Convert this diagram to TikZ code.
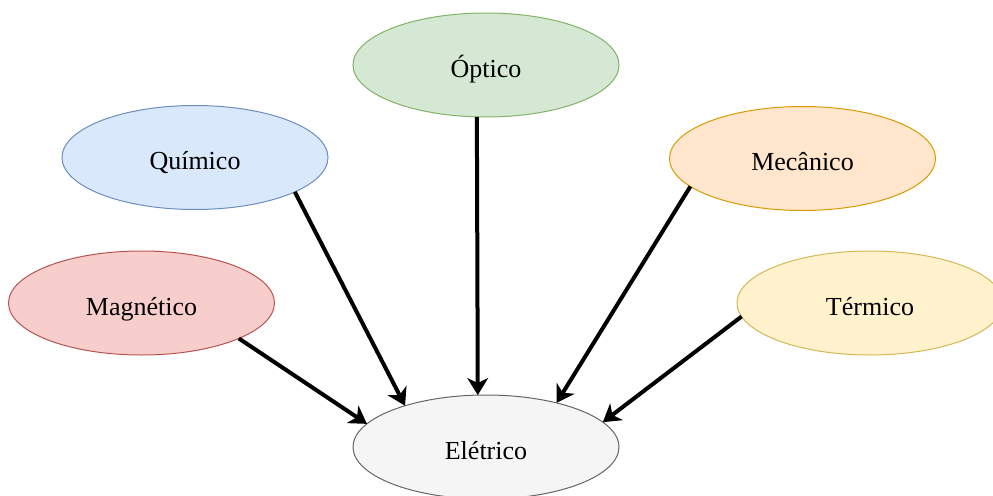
\documentclass[tikz,border=0pt]{standalone}
\usepackage{fontspec}
\setmainfont{Liberation Serif}
\usetikzlibrary{arrows.meta,shapes.geometric}

\definecolor{optfill}{HTML}{D5E8D4}\definecolor{optline}{HTML}{82B366}
\definecolor{quifill}{HTML}{DAE8FC}\definecolor{quiline}{HTML}{6C8EBF}
\definecolor{mecfill}{HTML}{FFE6CC}\definecolor{mecline}{HTML}{D79B00}
\definecolor{magfill}{HTML}{F8CECC}\definecolor{magline}{HTML}{B85450}
\definecolor{terfill}{HTML}{FFF2CC}\definecolor{terline}{HTML}{D6B656}
\definecolor{elefill}{HTML}{F5F5F5}\definecolor{eleline}{HTML}{666666}

\tikzset{
  energy/.style={ellipse, draw, line width=0.75pt, minimum width=199.5pt,
    minimum height=78pt, inner sep=0pt, outer sep=0pt,
    text height=18pt, text depth=0pt,
    font=\fontsize{19.5}{22}\selectfont},
  conv/.style={line width=3pt, black,
    -{Stealth[length=13pt, width=16pt, inset=4pt, line width=0pt]}},
}

\begin{document}
\begin{tikzpicture}[x=0.75pt, y=-0.75pt]
  \useasboundingbox (0,0) rectangle (993,496);
  \clip (0,0) rectangle (993,496);

  % energy forms
  \node[energy, draw=optline, fill=optfill] (opt) at (486,65)    {Óptico};
  \node[energy, draw=quiline, fill=quifill] (qui) at (195,157.5) {Químico};
  \node[energy, draw=mecline, fill=mecfill] (mec) at (802.5,158.5) {Mecânico};
  \node[energy, draw=magline, fill=magfill] (mag) at (141.5,303) {Magnético};
  \node[energy, draw=terline, fill=terfill] (ter) at (870,303)   {Térmico};
  \node[energy, draw=eleline, fill=elefill] (ele) at (486,447)   {Elétrico};

  % conversions into electrical energy
  \draw[conv] (qui.-19.8)  -- (ele.153.2);
  \draw[conv] (opt.-100.7) -- (ele.99.3);
  \draw[conv] (mec.-166.9) -- (ele.32.8);
  \draw[conv] (ter.186.2)  -- (ele.12.8);
  \draw[conv] (mag.-20.5)  -- (ele.169);
\end{tikzpicture}
\end{document}
